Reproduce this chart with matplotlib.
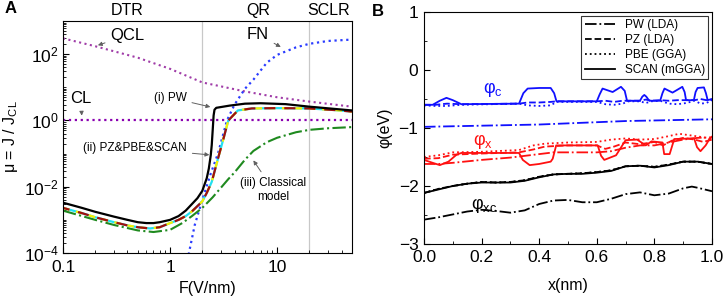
import numpy as np
import matplotlib
matplotlib.use("Agg")
import matplotlib.pyplot as plt
from matplotlib.ticker import FixedLocator, LogLocator, MultipleLocator, NullFormatter

plt.rcParams['font.family'] = ['Liberation Sans', 'DejaVu Sans']
plt.rcParams['mathtext.fontset'] = 'custom'
plt.rcParams['mathtext.rm'] = 'Liberation Sans'
plt.rcParams['mathtext.it'] = 'Liberation Sans:italic'
plt.rcParams['mathtext.bf'] = 'Liberation Sans:bold'

# ---- panel A data: mu = J/J_CL vs F (V/nm) ----
F_qcl = [0.1, 0.2, 0.5, 1, 2, 5, 10, 20, 50]
mu_qcl = [300, 173, 78, 36, 14, 7.5, 5, 3.7, 2.6]

F_fn = [1.45, 1.5, 1.7, 2.0, 2.4, 2.8, 3.4, 4.0, 5, 6, 8, 10, 15, 20, 30, 50]
mu_fn = [6e-5, 1e-4, 7e-4, 4e-3, 0.025, 0.1, 1.0, 3.0, 9, 17, 55, 95, 160, 205, 250, 275]

F_pw = [0.1, 0.15, 0.2, 0.3, 0.4, 0.5, 0.6, 0.7, 0.8, 1.0, 1.2, 1.4, 1.6, 1.8, 2.0,
        2.2, 2.3, 2.4, 2.45, 2.5, 2.55, 2.6, 2.7, 3.6, 5, 7, 12, 20, 50]
mu_pw = [3.3e-3, 2.3e-3, 1.75e-3, 1.25e-3, 1.0e-3, 8.5e-4, 8e-4, 8e-4, 8.5e-4, 1.0e-3,
         1.3e-3, 1.9e-3, 3.0e-3, 4.5e-3, 7.5e-3, 0.018, 0.035, 0.09, 0.18, 0.5, 1.4,
         2.1, 2.4, 2.8, 3.2, 3.3, 3.1, 2.6, 2.0]

# PZ, PBE and SCAN curves lie on top of each other
F_dft = [0.1, 0.15, 0.2, 0.3, 0.4, 0.5, 0.65, 0.8, 1.0, 1.2, 1.4, 1.6, 1.8, 2.0, 2.2,
         2.45, 2.8, 3.15, 3.5, 4.3, 5.8, 10, 20, 35, 50]
mu_dft = [2.3e-3, 1.6e-3, 1.2e-3, 8.5e-4, 6.8e-4, 6e-4, 5.5e-4, 6e-4, 8e-4, 1.0e-3,
          1.3e-3, 1.8e-3, 2.6e-3, 3.6e-3, 6.5e-3, 0.014, 0.07, 0.28, 1.0, 2.0, 2.3,
          2.35, 2.3, 2.05, 1.85]

F_cls = [0.1, 0.2, 0.3, 0.5, 0.7, 1.0, 1.3, 1.6, 2.0, 2.5, 3.0, 3.5, 4.0, 5.0, 6.0,
         8.0, 10, 15, 20, 30, 50]
mu_cls = [1.9e-3, 1.0e-3, 7e-4, 4.8e-4, 4.3e-4, 5e-4, 8e-4, 1.3e-3, 2.3e-3, 4.8e-3,
          9.5e-3, 0.017, 0.027, 0.065, 0.12, 0.22, 0.3, 0.44, 0.52, 0.58, 0.63]

# ---- panel B data: potentials phi (eV) vs x (nm) ----
x_c_scan = [0, 0.03, 0.055, 0.078, 0.10, 0.13, 0.33, 0.345, 0.36, 0.40, 0.44, 0.452,
            0.46, 0.6, 0.61, 0.62, 0.655, 0.684, 0.697, 0.705, 0.75, 0.758, 0.765,
            0.772, 0.782, 0.82, 0.828, 0.835, 0.863, 0.897, 0.905, 0.91, 0.937, 0.943,
            0.95, 0.972, 0.979, 0.985, 1.0]
phi_c_scan = [-0.60, -0.60, -0.53, -0.48, -0.52, -0.59, -0.58, -0.40, -0.32, -0.31,
              -0.31, -0.40, -0.54, -0.54, -0.42, -0.32, -0.38, -0.29, -0.36, -0.53,
              -0.53, -0.46, -0.43, -0.46, -0.53, -0.53, -0.40, -0.32, -0.39, -0.29,
              -0.38, -0.52, -0.52, -0.38, -0.31, -0.30, -0.40, -0.52, -0.50]
x_c = [0, 0.04, 0.08, 0.13, 0.33, 0.36, 0.40, 0.44, 0.46, 0.60, 0.63, 0.66, 0.69,
       0.71, 0.75, 0.77, 0.79, 0.82, 0.85, 0.88, 0.91, 0.94, 0.96, 0.98, 1.0]
phi_c_pz = [-0.60, -0.60, -0.58, -0.59, -0.58, -0.56, -0.56, -0.55, -0.54, -0.54,
            -0.53, -0.55, -0.53, -0.53, -0.53, -0.51, -0.53, -0.52, -0.53, -0.52,
            -0.52, -0.52, -0.50, -0.52, -0.51]
phi_c_pbe = [-0.61, -0.62, -0.62, -0.60, -0.58, -0.61, -0.62, -0.61, -0.55, -0.55,
             -0.59, -0.60, -0.58, -0.54, -0.54, -0.57, -0.54, -0.53, -0.58, -0.59,
             -0.57, -0.53, -0.58, -0.57, -0.52]
x_c_pw = [0, 0.1, 0.2, 0.3, 0.4, 0.5, 0.6, 0.7, 0.8, 0.9, 1.0]
phi_c_pw = [-0.98, -0.97, -0.96, -0.95, -0.94, -0.92, -0.90, -0.88, -0.87, -0.86, -0.85]

x_x_scan = [0, 0.03, 0.055, 0.085, 0.113, 0.13, 0.33, 0.343, 0.367, 0.40, 0.44, 0.447,
            0.459, 0.5, 0.603, 0.615, 0.626, 0.667, 0.70, 0.74, 0.77, 0.79, 0.828,
            0.834, 0.853, 0.869, 0.938, 0.948, 0.96, 0.978, 0.99, 1.0]
phi_x_scan = [-1.55, -1.60, -1.64, -1.58, -1.46, -1.43, -1.43, -1.55, -1.64, -1.62,
              -1.58, -1.53, -1.30, -1.30, -1.30, -1.48, -1.55, -1.47, -1.21, -1.20,
              -1.30, -1.23, -1.25, -1.45, -1.45, -1.19, -1.18, -1.33, -1.40, -1.30,
              -1.20, -1.15]
x_x_pbe = [0, 0.05, 0.1, 0.2, 0.33, 0.38, 0.42, 0.5, 0.6, 0.65, 0.7, 0.75, 0.8, 0.85,
           0.886, 0.93, 0.97, 1.0]
phi_x_pbe = [-1.50, -1.47, -1.42, -1.41, -1.38, -1.30, -1.27, -1.25, -1.24, -1.20,
             -1.18, -1.20, -1.19, -1.14, -1.10, -1.13, -1.16, -1.20]
x_x_pz = [0, 0.05, 0.1, 0.2, 0.33, 0.38, 0.42, 0.5, 0.6, 0.63, 0.66, 0.7, 0.75, 0.8,
          0.83, 0.86, 0.9, 0.94, 0.97, 1.0]
phi_x_pz = [-1.53, -1.52, -1.46, -1.44, -1.42, -1.37, -1.32, -1.30, -1.30, -1.36,
            -1.32, -1.25, -1.28, -1.24, -1.30, -1.22, -1.17, -1.20, -1.24, -1.20]
x_x_pw = [0, 0.05, 0.1, 0.2, 0.3, 0.4, 0.45, 0.5, 0.6, 0.65, 0.7, 0.75, 0.8, 0.85,
          0.9, 0.95, 1.0]
phi_x_pw = [-1.62, -1.62, -1.60, -1.55, -1.51, -1.45, -1.42, -1.42, -1.42, -1.40,
            -1.34, -1.30, -1.30, -1.25, -1.20, -1.17, -1.16]

x_xc = [0, 0.05, 0.1, 0.15, 0.2, 0.25, 0.3, 0.35, 0.4, 0.45, 0.5, 0.55, 0.6, 0.65,
        0.7, 0.75, 0.8, 0.85, 0.9, 0.95, 1.0]
phi_xc_scan = [-2.12, -2.06, -2.00, -1.96, -1.94, -1.94, -1.94, -1.91, -1.85, -1.80,
               -1.79, -1.79, -1.77, -1.74, -1.66, -1.65, -1.68, -1.64, -1.58, -1.58,
               -1.62]
phi_xc_pz = [-2.12, -2.05, -2.00, -1.96, -1.93, -1.94, -1.93, -1.90, -1.84, -1.80,
             -1.79, -1.78, -1.76, -1.73, -1.66, -1.65, -1.67, -1.63, -1.58, -1.58,
             -1.62]
x_xc_pw = [0, 0.05, 0.1, 0.15, 0.2, 0.25, 0.3, 0.35, 0.4, 0.45, 0.5, 0.55, 0.6, 0.65,
           0.7, 0.75, 0.8, 0.85, 0.9, 0.93, 0.95, 1.0]
phi_xc_pw = [-2.58, -2.54, -2.49, -2.44, -2.41, -2.43, -2.46, -2.42, -2.31, -2.25,
             -2.24, -2.28, -2.28, -2.22, -2.14, -2.11, -2.16, -2.13, -2.04, -2.01,
             -2.03, -2.09]

fig = plt.figure(figsize=(7.26, 2.99), dpi=100)
axA = fig.add_axes([0.0868, 0.1538, 0.398, 0.776])
axB = fig.add_axes([0.584, 0.1839, 0.3967, 0.776])

# ---------------- panel A ----------------
axA.axvline(2, color='#c8c8c8', lw=0.9, zorder=0)
axA.axvline(20, color='#c8c8c8', lw=0.9, zorder=0)
axA.plot(F_qcl, mu_qcl, ls=':', color='#a03ca8', lw=1.5)
axA.axhline(1, ls=':', color='#8a00b0', lw=1.6)
axA.plot(F_fn, mu_fn, ls=':', color='#2a3cff', lw=1.6)
axA.plot(F_cls, mu_cls, ls='-.', color='#1f8a1f', lw=1.5)
axA.plot(F_dft, mu_dft, ls='-', color='#22e0f0', lw=1.6)
axA.plot(F_dft, mu_dft, ls=(0, (3, 3)), color='#f5f000', lw=1.6)
axA.plot(F_dft, mu_dft, ls=(2, (5, 4)), color='#a01010', lw=1.6)
axA.plot(F_pw, mu_pw, ls='-', color='black', lw=1.6)

axA.set_xscale('log')
axA.set_yscale('log')
axA.set_xlim(0.1, 50)
axA.set_ylim(1e-4, 1e3)
axA.xaxis.set_major_locator(FixedLocator([0.1, 1, 10]))
axA.set_xticklabels(['0.1', '1', '10'])
axA.xaxis.set_minor_locator(LogLocator(base=10, subs=np.arange(2, 10), numticks=20))
axA.xaxis.set_minor_formatter(NullFormatter())
axA.yaxis.set_major_locator(FixedLocator([1e-4, 1e-2, 1, 1e2]))
axA.set_yticklabels(['$10^{-4}$', '$10^{-2}$', '$10^{0}$', '$10^{2}$'])
axA.yaxis.set_minor_locator(LogLocator(base=10, subs=np.arange(1, 10), numticks=20))
axA.yaxis.set_minor_formatter(NullFormatter())
axA.tick_params(which='both', direction='in', top=False, right=False, labelsize=12.5)
axA.tick_params(axis='x', which='major', pad=5)
axA.tick_params(axis='y', which='major', pad=3)
axA.tick_params(which='major', length=4)
axA.tick_params(which='minor', length=2)
axA.set_xlabel('F(V/nm)', fontsize=11.5)
axA.xaxis.set_label_coords(0.5, -0.12)
axA.set_ylabel(r'μ = J / J$_{\mathrm{CL}}$', fontsize=11.5)
axA.yaxis.set_label_coords(-0.148, 0.5)

for lab, xv in [('DTR', 0.40), ('QR', 6.6), ('SCLR', 30)]:
    axA.text(xv, 1.047, lab, transform=axA.get_xaxis_transform(),
             ha='center', va='center', fontsize=11.5)

arr = dict(arrowstyle='-|>', color='#606060', lw=0.7, mutation_scale=6)
axA.annotate('QCL', xy=(0.2, 174), xytext=(0.40, 370), fontsize=12,
             ha='center', va='center', arrowprops=arr)
axA.annotate('CL', xy=(0.15, 1.15), xytext=(0.147, 4.5), fontsize=12,
             ha='center', va='center', arrowprops=arr)
axA.annotate('FN', xy=(11.4, 150), xytext=(6.6, 394), fontsize=12,
             ha='center', va='center', arrowprops=arr)
axA.annotate('(i) PW', xy=(2.52, 2.44), xytext=(1.0, 4.9), fontsize=8.5,
             ha='center', va='center', arrowprops=arr)
axA.annotate('(ii) PZ&PBE&SCAN', xy=(2.47, 0.09), xytext=(0.47, 0.146), fontsize=8.5,
             ha='center', va='center', arrowprops=arr)
axA.annotate('(iii) Classical\nmodel', xy=(5.8, 0.073), xytext=(9.2, 8.1e-3),
             fontsize=8.5, ha='center', va='center', arrowprops=arr)

# ---------------- panel B ----------------
lw = 1.3
axB.plot(x_c_pw, phi_c_pw, ls='-.', color='#1010ff', lw=lw)
axB.plot(x_c, phi_c_pz, ls='--', color='#1010ff', lw=lw)
axB.plot(x_c, phi_c_pbe, ls=':', color='#1010ff', lw=lw)
axB.plot(x_c_scan, phi_c_scan, ls='-', color='#1010ff', lw=lw)

axB.plot(x_x_pw, phi_x_pw, ls='-.', color='#ff1010', lw=lw)
axB.plot(x_x_pz, phi_x_pz, ls='--', color='#ff1010', lw=lw)
axB.plot(x_x_pbe, phi_x_pbe, ls=':', color='#ff1010', lw=lw)
axB.plot(x_x_scan, phi_x_scan, ls='-', color='#ff1010', lw=lw)

axB.plot(x_xc_pw, phi_xc_pw, ls='-.', color='black', lw=lw)
axB.plot(x_xc, phi_xc_pz, ls='--', color='black', lw=lw)
axB.plot(x_xc, phi_xc_pz, ls=':', color='black', lw=lw)
axB.plot(x_xc, phi_xc_scan, ls='-', color='black', lw=lw)

# legend entries drawn with black lines
h1, = axB.plot([], [], ls='-.', color='black', lw=lw, label='PW (LDA)')
h2, = axB.plot([], [], ls='--', color='black', lw=lw, label='PZ (LDA)')
h3, = axB.plot([], [], ls=':', color='black', lw=lw, label='PBE (GGA)')
h4, = axB.plot([], [], ls='-', color='black', lw=lw, label='SCAN (mGGA)')
leg = axB.legend(handles=[h1, h2, h3, h4], loc='upper right', fontsize=8.5,
                 frameon=True, fancybox=False, edgecolor='black', handlelength=2.6,
                 borderaxespad=0.3, labelspacing=0.25, borderpad=0.3)
leg.get_frame().set_linewidth(0.8)

axB.text(0.239, -0.34, 'φ$_{\\mathrm{c}}$', color='#1010ff', fontsize=13,
         ha='center', va='center')
axB.text(0.204, -1.24, 'φ$_{\\mathrm{x}}$', color='#ff1010', fontsize=13,
         ha='center', va='center')
axB.text(0.208, -2.33, 'φ$_{\\mathrm{xc}}$', color='black', fontsize=13,
         ha='center', va='center')

axB.set_xlim(0, 1)
axB.set_ylim(-3, 1)
axB.xaxis.set_major_locator(MultipleLocator(0.2))
axB.xaxis.set_minor_locator(MultipleLocator(0.1))
axB.yaxis.set_major_locator(MultipleLocator(1))
axB.yaxis.set_minor_locator(MultipleLocator(0.5))
axB.xaxis.set_major_formatter(plt.FuncFormatter(lambda v, p: '%.1f' % v))
axB.tick_params(which='both', direction='in', top=False, right=False, labelsize=12.5)
axB.tick_params(which='major', length=4, pad=4)
axB.tick_params(which='minor', length=2)
axB.set_xlabel('x(nm)', fontsize=11.5)
axB.xaxis.set_label_coords(0.5, -0.145)
axB.set_ylabel('φ(eV)', fontsize=11.5)
axB.yaxis.set_label_coords(-0.11, 0.5)

fig.text(0.014, 0.97, 'A', fontsize=12, fontweight='bold', ha='center', va='center')
fig.text(0.521, 0.963, 'B', fontsize=12, fontweight='bold', ha='center', va='center')

fig.savefig('out.png', dpi=100)
